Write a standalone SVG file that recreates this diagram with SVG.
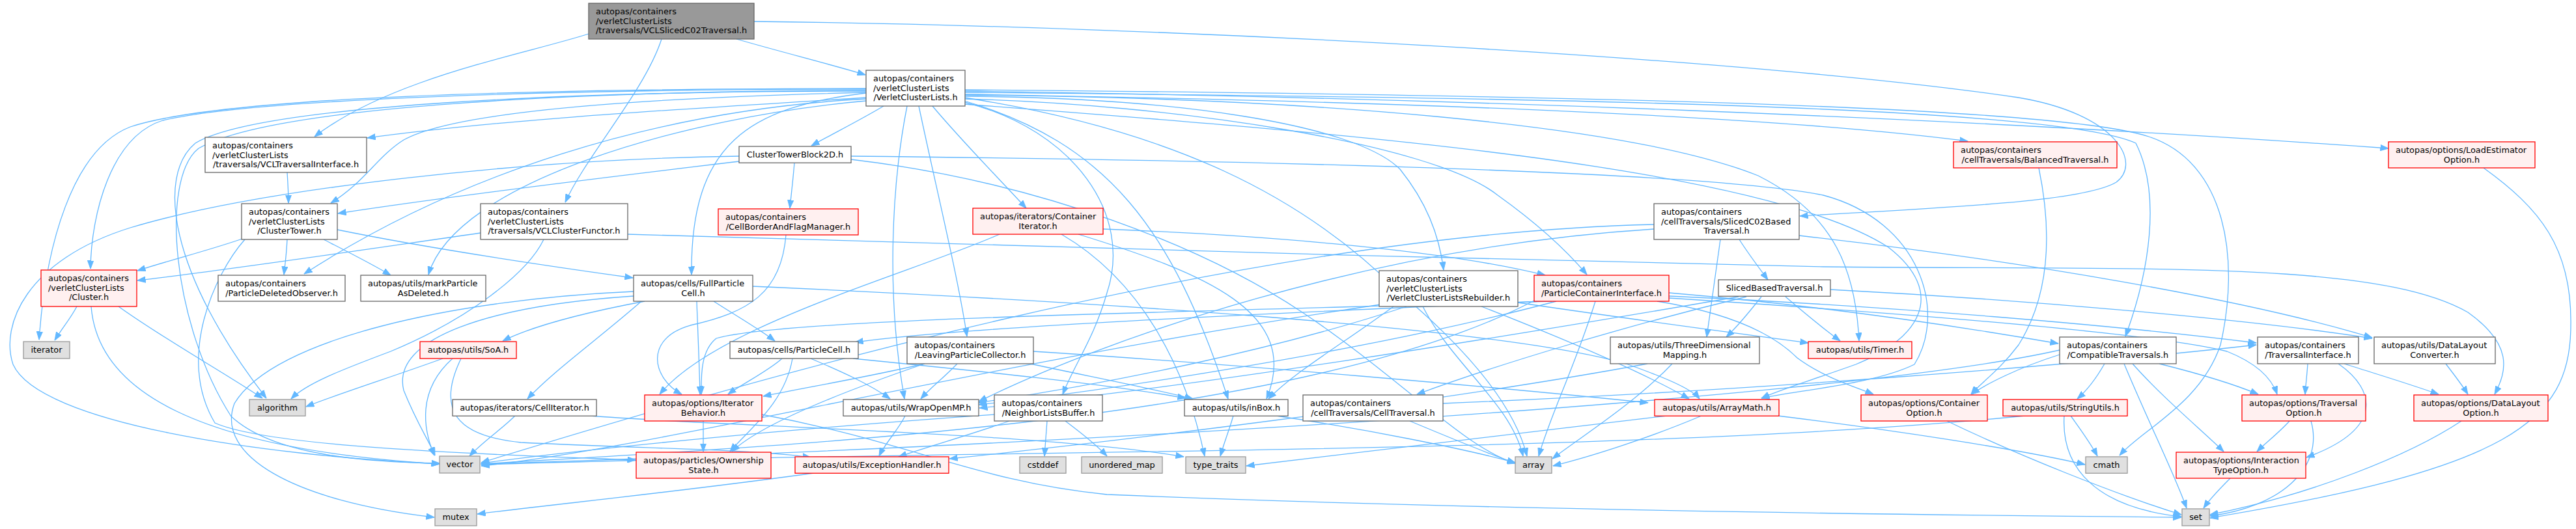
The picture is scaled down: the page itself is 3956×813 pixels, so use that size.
<svg xmlns="http://www.w3.org/2000/svg" width="3956" height="813" viewBox="0 0 3956 813">
<style>
.e{fill:none;stroke:#63b8ff;stroke-width:1.3;marker-end:url(#ah)}
.n rect{fill:#ffffff;stroke:#666666;stroke-width:1.3}
.r rect{fill:#fff0f0;stroke:#ff0000;stroke-width:1.3}
.x rect{fill:#e0e0e0;stroke:#999999;stroke-width:1.3}
.root rect{fill:#999999;stroke:#666666;stroke-width:1.3}
text{font-family:"DejaVu Sans","Liberation Sans",sans-serif;font-size:12.9px;fill:#000000}
.c{text-anchor:middle}
</style>
<defs>
<marker id="ah" viewBox="0 0 13 10" refX="12.5" refY="5" markerWidth="13" markerHeight="10" markerUnits="userSpaceOnUse" orient="auto">
<path d="M0,0.4 L12.5,5 L0,9.6 Z" fill="#63b8ff" stroke="#63b8ff" stroke-width="1"/>
</marker>
</defs>
<rect width="3956" height="813" fill="#ffffff"/>
<g id="edges">
<path class="e" d="M904,52 C800,85 600,120 483,210"/>
<path class="e" d="M1131,60 C1200,80 1280,100 1329,115"/>
<path class="e" d="M1016,60 C990,140 900,240 868,311"/>
<path class="e" d="M1158,33 C1800,40 2700,90 3100,150 C3250,175 3290,250 3250,280 C3200,310 3000,318 2764,332"/>
<path class="e" d="M1357,163 C1320,185 1280,205 1246,224"/>
<path class="e" d="M1432,163 C1480,220 1530,270 1576,320"/>
<path class="e" d="M1330,150 C1100,165 800,180 564,212"/>
<path class="e" d="M1330,142 C1000,150 700,170 620,215 C580,240 560,280 508,312"/>
<path class="e" d="M1330,137 C900,137 400,150 250,185 C170,210 140,330 139,413"/>
<path class="e" d="M1330,136 C900,136 350,145 200,195 C110,230 70,380 60,522"/>
<path class="e" d="M1330,152 C1000,170 700,270 467,421"/>
<path class="e" d="M1330,155 C1050,180 700,280 658,422"/>
<path class="e" d="M1330,143 C1150,165 1060,220 1062,422"/>
<path class="e" d="M1330,140 C900,140 400,160 300,220 C240,270 260,420 409,612"/>
<path class="e" d="M1330,139 C900,140 420,162 305,228 C245,275 265,500 355,640 C420,700 560,710 675,712"/>
<path class="e" d="M1411,163 C1440,300 1470,420 1485,517"/>
<path class="e" d="M1393,163 C1370,280 1360,450 1389,613"/>
<path class="e" d="M1481,157 C1650,200 1740,330 1700,450 C1680,520 1650,560 1632,606"/>
<path class="e" d="M1481,155 C1700,220 1800,350 1886,613"/>
<path class="e" d="M1481,150 C1800,200 2000,300 2150,450 C2280,560 2330,640 2345,701"/>
<path class="e" d="M1481,138 C2300,145 3150,160 3300,210 C3420,250 3440,400 3410,530 C3380,620 3290,660 3255,700"/>
<path class="e" d="M1481,140 C2200,150 3000,180 3668,228"/>
<path class="e" d="M1481,145 C2100,155 2700,175 3022,217"/>
<path class="e" d="M1481,142 C2300,150 3150,160 3280,220 C3320,300 3300,420 3264,517"/>
<path class="e" d="M1481,152 C1800,160 2200,220 2300,300 C2370,350 2410,390 2437,422"/>
<path class="e" d="M1481,148 C1800,150 2080,190 2150,260 C2190,310 2210,360 2217,415"/>
<path class="e" d="M1481,146 C2000,150 2500,190 2700,270 C2820,330 2850,420 2855,524"/>
<path class="e" d="M1481,160 C2000,200 2700,250 2900,380 C2990,450 2950,520 2850,560 C2780,585 2730,600 2705,612"/>
<path class="e" d="M441,265 C442,280 443,295 443,312"/>
<path class="e" d="M1135,248 C950,270 700,300 519,328"/>
<path class="e" d="M1220,250 C1218,275 1215,300 1213,320"/>
<path class="e" d="M1135,240 C800,245 400,290 200,350 C40,400 0,500 20,560 C60,650 400,700 675,713"/>
<path class="e" d="M1307,240 C1800,245 2600,260 2800,300 C2950,340 2990,480 2940,560 C2880,590 2760,600 2705,612"/>
<path class="e" d="M1307,245 C1600,280 1850,380 2000,480 C2150,580 2250,690 2328,712"/>
<path class="e" d="M372,367 C320,385 260,400 211,416"/>
<path class="e" d="M441,368 C440,390 438,405 436,422"/>
<path class="e" d="M497,368 C530,385 570,405 600,423"/>
<path class="e" d="M518,353 C650,380 850,410 972,427"/>
<path class="e" d="M376,368 C330,420 270,550 330,650 C420,690 800,700 976,707"/>
<path class="e" d="M738,358 C550,385 350,415 211,431"/>
<path class="e" d="M964,360 C1500,375 2200,398 2800,410 C3300,415 3650,400 3790,480 C3860,530 3850,570 3831,606"/>
<path class="e" d="M835,368 C810,420 720,490 600,540 C520,570 470,590 447,613"/>
<path class="e" d="M118,471 C108,490 95,505 84,523"/>
<path class="e" d="M182,471 C250,520 340,570 403,612"/>
<path class="e" d="M140,471 C150,600 300,690 675,713"/>
<path class="e" d="M1207,361 C1200,450 1150,480 1060,500 C990,520 1000,580 1047,606"/>
<path class="e" d="M1694,352 C1900,360 2200,380 2373,423"/>
<path class="e" d="M1535,360 C1400,420 1100,500 1013,606"/>
<path class="e" d="M1656,360 C1850,420 2000,480 1945,613"/>
<path class="e" d="M1630,360 C1750,430 1820,560 1850,701"/>
<path class="e" d="M990,463 C900,480 820,500 772,524"/>
<path class="e" d="M1096,463 C1130,485 1165,505 1190,524"/>
<path class="e" d="M985,463 C920,520 850,570 810,613"/>
<path class="e" d="M973,455 C750,470 600,520 620,600 C640,650 660,680 668,700"/>
<path class="e" d="M973,448 C700,460 420,520 360,620 C330,700 450,770 667,795"/>
<path class="e" d="M1156,440 C1600,460 2300,500 2500,560 C2570,585 2600,600 2610,613"/>
<path class="e" d="M1070,463 C1072,520 1074,560 1075,606"/>
<path class="e" d="M680,551 C600,580 520,605 470,625"/>
<path class="e" d="M695,551 C640,600 650,660 667,700"/>
<path class="e" d="M708,551 C670,630 700,670 800,680 C1000,690 1150,690 1245,703"/>
<path class="e" d="M1201,551 C1180,570 1140,590 1118,606"/>
<path class="e" d="M1245,551 C1290,570 1335,590 1367,613"/>
<path class="e" d="M1217,551 C1205,620 1150,660 1121,694"/>
<path class="e" d="M1310,551 C1500,570 1700,590 1821,612"/>
<path class="e" d="M791,639 C770,660 740,680 721,701"/>
<path class="e" d="M906,639 C1100,655 1600,665 1818,702"/>
<path class="e" d="M1080,647 L1080,694"/>
<path class="e" d="M1170,637 C1400,680 1500,740 1700,760 C2300,785 3000,792 3350,795"/>
<path class="e" d="M1420,559 C1330,580 1240,595 1172,609"/>
<path class="e" d="M1470,559 C1450,580 1430,595 1414,613"/>
<path class="e" d="M1582,559 C1680,580 1760,595 1832,613"/>
<path class="e" d="M1420,559 C1300,600 1170,650 1124,694"/>
<path class="e" d="M1587,540 C1900,560 2300,595 2531,619"/>
<path class="e" d="M1390,639 C1380,660 1360,680 1350,701"/>
<path class="e" d="M1550,647 C1500,665 1430,685 1380,702"/>
<path class="e" d="M1608,647 L1604,701"/>
<path class="e" d="M1636,647 C1660,665 1685,685 1700,701"/>
<path class="e" d="M1527,637 C1200,660 900,690 739,712"/>
<path class="e" d="M1894,639 C1888,660 1880,680 1874,701"/>
<path class="e" d="M1960,639 C2100,660 2250,690 2327,711"/>
<path class="e" d="M1250,727 C1050,755 850,775 733,790"/>
<path class="e" d="M2331,465 C2500,490 2650,510 2777,527"/>
<path class="e" d="M2185,471 C2230,560 2320,620 2339,701"/>
<path class="e" d="M2140,471 C2060,530 1990,570 1948,613"/>
<path class="e" d="M2160,471 C1950,540 1700,590 1502,619"/>
<path class="e" d="M2275,471 C2400,520 2520,570 2594,613"/>
<path class="e" d="M2120,468 C1500,560 1000,690 739,716"/>
<path class="e" d="M2370,463 C2000,480 1500,500 1313,526"/>
<path class="e" d="M2383,463 C1800,480 1200,490 1100,520 C1075,540 1077,580 1077,606"/>
<path class="e" d="M2450,463 C2420,560 2380,640 2363,701"/>
<path class="e" d="M2563,450 C2800,470 3000,500 3161,528"/>
<path class="e" d="M2563,455 C2900,470 3250,500 3465,527"/>
<path class="e" d="M2545,463 C2650,480 2720,510 2760,550 C2800,580 2850,595 2877,606"/>
<path class="e" d="M2390,463 C2100,540 1700,600 1503,622"/>
<path class="e" d="M2563,458 C2900,480 3300,510 3420,540 C3470,560 3490,585 3497,606"/>
<path class="e" d="M2360,460 C2000,650 1200,685 739,713"/>
<path class="e" d="M2671,368 C2685,390 2700,410 2715,430"/>
<path class="e" d="M2642,368 C2635,420 2628,470 2621,518"/>
<path class="e" d="M2763,362 C3100,400 3450,460 3643,519"/>
<path class="e" d="M2540,345 C1900,360 1100,600 739,711"/>
<path class="e" d="M2540,352 C2100,380 1700,520 1503,617"/>
<path class="e" d="M2742,456 C2770,480 2800,505 2826,524"/>
<path class="e" d="M2705,456 C2690,475 2670,500 2651,518"/>
<path class="e" d="M2682,456 C2500,500 2300,560 2176,606"/>
<path class="e" d="M2670,456 C2300,520 1800,600 1504,627"/>
<path class="e" d="M2811,445 C3100,460 3450,490 3643,520"/>
<path class="e" d="M2165,647 C2220,670 2280,695 2327,712"/>
<path class="e" d="M2216,620 C2700,600 3200,560 3465,530"/>
<path class="e" d="M3131,258 C3150,350 3150,450 3100,530 C3070,570 3040,590 3027,606"/>
<path class="e" d="M2568,559 C2510,620 2430,670 2384,705"/>
<path class="e" d="M2530,559 C2200,620 1700,680 1458,705"/>
<path class="e" d="M2613,639 C2540,670 2450,700 2385,716"/>
<path class="e" d="M2730,639 C2900,660 3100,690 3202,714"/>
<path class="e" d="M2560,639 C2300,670 2050,700 1914,716"/>
<path class="e" d="M2990,647 C3100,700 3250,760 3350,791"/>
<path class="e" d="M3170,639 C3165,720 3220,780 3350,794"/>
<path class="e" d="M3180,639 C3195,660 3210,680 3221,701"/>
<path class="e" d="M3110,639 C2500,700 1500,690 739,714"/>
<path class="e" d="M3163,545 C3100,565 3050,590 3028,606"/>
<path class="e" d="M3232,559 C3220,580 3205,600 3190,613"/>
<path class="e" d="M3262,559 C3300,650 3340,730 3358,781"/>
<path class="e" d="M3275,559 C3320,610 3380,660 3415,694"/>
<path class="e" d="M3316,559 C3380,575 3430,590 3468,606"/>
<path class="e" d="M3163,538 C2800,620 1500,690 739,713"/>
<path class="e" d="M3544,559 C3543,575 3541,590 3540,606"/>
<path class="e" d="M3600,559 C3650,575 3700,590 3745,606"/>
<path class="e" d="M3591,559 C3650,600 3660,660 3542,703"/>
<path class="e" d="M3756,559 C3768,575 3780,590 3790,606"/>
<path class="e" d="M3516,647 C3500,665 3480,680 3466,694"/>
<path class="e" d="M3549,647 C3570,720 3500,780 3394,793"/>
<path class="e" d="M3780,647 C3700,700 3550,760 3394,791"/>
<path class="e" d="M3425,735 C3410,750 3395,765 3384,781"/>
<path class="e" d="M3814,258 C3900,320 3950,380 3948,500 C3948,650 3850,720 3394,796"/>
</g>
<g id="node-root" class="root"><rect x="904" y="5" width="254" height="55"/><text x="915" y="21.8">autopas/containers</text><text x="915" y="36.5">/verletClusterLists</text><text x="915" y="51.2">/traversals/VCLSlicedC02Traversal.h</text></g>
<g id="node-VerletClusterLists" class="n"><rect x="1330" y="108" width="152" height="55"/><text x="1341" y="124.8">autopas/containers</text><text x="1341" y="139.5">/verletClusterLists</text><text class="c" x="1406" y="154.2">/VerletClusterLists.h</text></g>
<g id="node-VCLTraversalInterface" class="n"><rect x="315" y="211" width="248" height="54"/><text x="326" y="227.8">autopas/containers</text><text x="326" y="242.5">/verletClusterLists</text><text class="c" x="439" y="257.2">/traversals/VCLTraversalInterface.h</text></g>
<g id="node-ClusterTowerBlock2D" class="n"><rect x="1135" y="225" width="172" height="25.3"/><text class="c" x="1221" y="241.8">ClusterTowerBlock2D.h</text></g>
<g id="node-CellBorderAndFlagManager" class="r"><rect x="1103" y="321" width="215" height="40"/><text x="1114" y="337.8">autopas/containers</text><text class="c" x="1210.5" y="352.5">/CellBorderAndFlagManager.h</text></g>
<g id="node-ContainerIterator" class="r"><rect x="1494" y="320" width="200" height="40"/><text x="1505" y="336.8">autopas/iterators/Container</text><text class="c" x="1594" y="351.5">Iterator.h</text></g>
<g id="node-ClusterTower" class="n"><rect x="371" y="313" width="147" height="55"/><text x="382" y="329.8">autopas/containers</text><text x="382" y="344.5">/verletClusterLists</text><text class="c" x="444.5" y="359.2">/ClusterTower.h</text></g>
<g id="node-VCLClusterFunctor" class="n"><rect x="738" y="313" width="226" height="55"/><text x="749" y="329.8">autopas/containers</text><text x="749" y="344.5">/verletClusterLists</text><text class="c" x="851" y="359.2">/traversals/VCLClusterFunctor.h</text></g>
<g id="node-FullParticleCell" class="n"><rect x="973" y="423" width="183" height="40"/><text x="984" y="439.8">autopas/cells/FullParticle</text><text class="c" x="1064.5" y="454.5">Cell.h</text></g>
<g id="node-SlicedC02BasedTraversal" class="n"><rect x="2540" y="313" width="223" height="55"/><text x="2551" y="329.8">autopas/containers</text><text x="2551" y="344.5">/cellTraversals/SlicedC02Based</text><text class="c" x="2651.5" y="359.2">Traversal.h</text></g>
<g id="node-BalancedTraversal" class="r"><rect x="3000" y="218" width="251" height="40"/><text x="3011" y="234.8">autopas/containers</text><text class="c" x="3125.5" y="249.5">/cellTraversals/BalancedTraversal.h</text></g>
<g id="node-LoadEstimatorOption" class="r"><rect x="3668" y="218" width="225" height="40"/><text x="3679" y="234.8">autopas/options/LoadEstimator</text><text class="c" x="3780.5" y="249.5">Option.h</text></g>
<g id="node-Cluster" class="r"><rect x="63" y="415" width="147" height="56"/><text x="74" y="431.8">autopas/containers</text><text x="74" y="446.5">/verletClusterLists</text><text class="c" x="136.5" y="461.2">/Cluster.h</text></g>
<g id="node-ParticleDeletedObserver" class="n"><rect x="335" y="423" width="195" height="40"/><text x="346" y="439.8">autopas/containers</text><text class="c" x="432.5" y="454.5">/ParticleDeletedObserver.h</text></g>
<g id="node-markParticleAsDeleted" class="n"><rect x="554" y="423" width="192" height="40"/><text x="565" y="439.8">autopas/utils/markParticle</text><text class="c" x="650" y="454.5">AsDeleted.h</text></g>
<g id="node-VerletClusterListsRebuilder" class="n"><rect x="2118" y="416" width="213" height="55"/><text x="2129" y="432.8">autopas/containers</text><text x="2129" y="447.5">/verletClusterLists</text><text class="c" x="2224.5" y="462.2">/VerletClusterListsRebuilder.h</text></g>
<g id="node-ParticleContainerInterface" class="r"><rect x="2356" y="423" width="207" height="40"/><text x="2367" y="439.8">autopas/containers</text><text class="c" x="2459.5" y="454.5">/ParticleContainerInterface.h</text></g>
<g id="node-SlicedBasedTraversal" class="n"><rect x="2639" y="430" width="172" height="25.3"/><text class="c" x="2725" y="446.8">SlicedBasedTraversal.h</text></g>
<g id="node-iterator" class="x"><rect x="36" y="525" width="71" height="26"/><text class="c" x="71.5" y="542">iterator</text></g>
<g id="node-SoA" class="r"><rect x="645" y="525" width="148" height="26"/><text class="c" x="719" y="542">autopas/utils/SoA.h</text></g>
<g id="node-ParticleCell" class="n"><rect x="1121" y="525" width="197" height="26"/><text class="c" x="1219.5" y="542">autopas/cells/ParticleCell.h</text></g>
<g id="node-LeavingParticleCollector" class="n"><rect x="1393" y="518" width="194" height="41"/><text x="1404" y="534.8">autopas/containers</text><text class="c" x="1490" y="549.5">/LeavingParticleCollector.h</text></g>
<g id="node-ThreeDimensionalMapping" class="n"><rect x="2473" y="518" width="229" height="41"/><text x="2484" y="534.8">autopas/utils/ThreeDimensional</text><text class="c" x="2587.5" y="549.5">Mapping.h</text></g>
<g id="node-Timer" class="r"><rect x="2777" y="525" width="159" height="26"/><text class="c" x="2856.5" y="542">autopas/utils/Timer.h</text></g>
<g id="node-CompatibleTraversals" class="n"><rect x="3163" y="518" width="179" height="41"/><text x="3174" y="534.8">autopas/containers</text><text class="c" x="3252.5" y="549.5">/CompatibleTraversals.h</text></g>
<g id="node-TraversalInterface" class="n"><rect x="3467" y="518" width="155" height="41"/><text x="3478" y="534.8">autopas/containers</text><text class="c" x="3544.5" y="549.5">/TraversalInterface.h</text></g>
<g id="node-DataLayoutConverter" class="n"><rect x="3646" y="518" width="186" height="41"/><text x="3657" y="534.8">autopas/utils/DataLayout</text><text class="c" x="3739" y="549.5">Converter.h</text></g>
<g id="node-algorithm" class="x"><rect x="383" y="614" width="86" height="25.3"/><text class="c" x="426" y="630.8">algorithm</text></g>
<g id="node-CellIterator" class="n"><rect x="695" y="614" width="221" height="25.3"/><text class="c" x="805.5" y="630.8">autopas/iterators/CellIterator.h</text></g>
<g id="node-IteratorBehavior" class="r"><rect x="990" y="607" width="180" height="40"/><text x="1001" y="623.8">autopas/options/Iterator</text><text class="c" x="1080" y="638.5">Behavior.h</text></g>
<g id="node-WrapOpenMP" class="n"><rect x="1295" y="614" width="208" height="25.3"/><text class="c" x="1399" y="630.8">autopas/utils/WrapOpenMP.h</text></g>
<g id="node-NeighborListsBuffer" class="n"><rect x="1527" y="607" width="166" height="40"/><text x="1538" y="623.8">autopas/containers</text><text class="c" x="1610" y="638.5">/NeighborListsBuffer.h</text></g>
<g id="node-inBox" class="n"><rect x="1819" y="614" width="159" height="25.3"/><text class="c" x="1898.5" y="630.8">autopas/utils/inBox.h</text></g>
<g id="node-CellTraversal" class="n"><rect x="2001" y="607" width="215" height="40"/><text x="2012" y="623.8">autopas/containers</text><text class="c" x="2108.5" y="638.5">/cellTraversals/CellTraversal.h</text></g>
<g id="node-ArrayMath" class="r"><rect x="2541" y="614" width="191" height="25.3"/><text class="c" x="2636.5" y="630.8">autopas/utils/ArrayMath.h</text></g>
<g id="node-ContainerOption" class="r"><rect x="2858" y="607" width="194" height="40"/><text x="2869" y="623.8">autopas/options/Container</text><text class="c" x="2955" y="638.5">Option.h</text></g>
<g id="node-StringUtils" class="r"><rect x="3076" y="614" width="191" height="25.3"/><text class="c" x="3171.5" y="630.8">autopas/utils/StringUtils.h</text></g>
<g id="node-TraversalOption" class="r"><rect x="3443" y="607" width="190" height="40"/><text x="3454" y="623.8">autopas/options/Traversal</text><text class="c" x="3538" y="638.5">Option.h</text></g>
<g id="node-DataLayoutOption" class="r"><rect x="3707" y="607" width="206" height="40"/><text x="3718" y="623.8">autopas/options/DataLayout</text><text class="c" x="3810" y="638.5">Option.h</text></g>
<g id="node-vector" class="x"><rect x="675" y="701" width="62" height="26"/><text class="c" x="706" y="718">vector</text></g>
<g id="node-OwnershipState" class="r"><rect x="977" y="695" width="207" height="40"/><text x="988" y="711.8">autopas/particles/Ownership</text><text class="c" x="1080.5" y="726.5">State.h</text></g>
<g id="node-ExceptionHandler" class="r"><rect x="1221" y="702" width="236" height="25.3"/><text class="c" x="1339" y="718.8">autopas/utils/ExceptionHandler.h</text></g>
<g id="node-cstddef" class="x"><rect x="1566" y="702" width="71" height="25.3"/><text class="c" x="1601.5" y="718.8">cstddef</text></g>
<g id="node-unordered_map" class="x"><rect x="1661" y="702" width="124" height="25.3"/><text class="c" x="1723" y="718.8">unordered_map</text></g>
<g id="node-type_traits" class="x"><rect x="1821" y="702" width="92" height="25.3"/><text class="c" x="1867" y="718.8">type_traits</text></g>
<g id="node-array" class="x"><rect x="2327" y="702" width="56" height="25.3"/><text class="c" x="2355" y="718.8">array</text></g>
<g id="node-cmath" class="x"><rect x="3203" y="702" width="64" height="25.3"/><text class="c" x="3235" y="718.8">cmath</text></g>
<g id="node-InteractionTypeOption" class="r"><rect x="3342" y="695" width="199" height="40"/><text x="3353" y="711.8">autopas/options/Interaction</text><text class="c" x="3441.5" y="726.5">TypeOption.h</text></g>
<g id="node-mutex" class="x"><rect x="668" y="782" width="64" height="26"/><text class="c" x="700" y="799">mutex</text></g>
<g id="node-set" class="x"><rect x="3351" y="782" width="42" height="26"/><text class="c" x="3372" y="799">set</text></g>
</svg>
